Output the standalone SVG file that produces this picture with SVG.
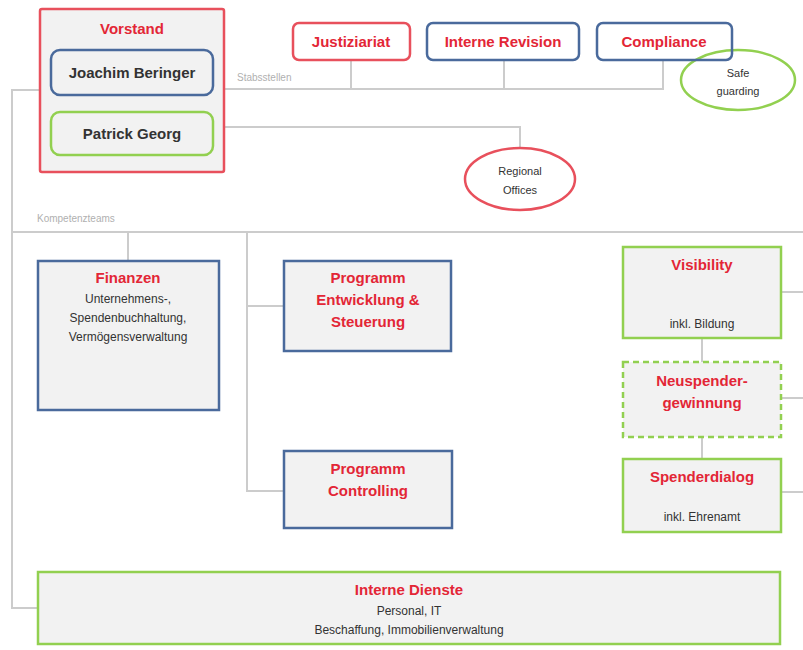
<svg xmlns="http://www.w3.org/2000/svg" width="803" height="650" viewBox="0 0 803 650">
<style>
.bg{fill:#ffffff}
.box{fill:#f2f2f2;stroke-width:2.5}
.red{stroke:#e8505c}
.blue{stroke:#4a6a9c}
.green{stroke:#92d050}
.dash{stroke-dasharray:6 4}
.ln{fill:none;stroke:#cccccc;stroke-width:2}
.t{font-family:"Liberation Sans",Arial,sans-serif;text-anchor:middle}
.tr{fill:#e32636;font-weight:bold;font-size:15px}
.td{fill:#333333;font-weight:bold;font-size:15px}
.ts{fill:#333333;font-size:12px}
.tl{fill:#b0b0b0;font-size:10px;font-family:"Liberation Sans",Arial,sans-serif}
.ell{fill:#ffffff;stroke-width:2.5}
.wbox{fill:#ffffff}
</style>
<rect class="bg" x="0" y="0" width="803" height="650"/>
<g id="connectors">
<polyline class="ln" points="40,90 12,90 12,608 38,608"/>
<line class="ln" x1="224" y1="89" x2="664" y2="89"/>
<line class="ln" x1="351" y1="60" x2="351" y2="89"/>
<line class="ln" x1="504" y1="60" x2="504" y2="89"/>
<line class="ln" x1="663" y1="60" x2="663" y2="89"/>
<polyline class="ln" points="224,127 520,127 520,148"/>
<line class="ln" x1="12" y1="232" x2="803" y2="232"/>
<line class="ln" x1="128" y1="232" x2="128" y2="261"/>
<polyline class="ln" points="247,232 247,491 284,491"/>
<line class="ln" x1="247" y1="306" x2="284" y2="306"/>
<line class="ln" x1="702" y1="338" x2="702" y2="362"/>
<line class="ln" x1="702" y1="437" x2="702" y2="459"/>
<line class="ln" x1="781" y1="292" x2="803" y2="292"/>
<line class="ln" x1="781" y1="398" x2="803" y2="398"/>
<line class="ln" x1="781" y1="492" x2="803" y2="492"/>
</g>
<text class="tl" x="237" y="81">Stabsstellen</text>
<text class="tl" x="37" y="222">Kompetenzteams</text>
<g id="safeguarding">
<ellipse class="ell green" cx="738" cy="80" rx="57" ry="30"/>
<text class="t ts" x="738" y="77" style="font-size:11px">Safe</text>
<text class="t ts" x="738" y="95" style="font-size:11px">guarding</text>
</g>
<g id="vorstand">
<rect class="box red" x="40" y="9" width="184" height="163" rx="2"/>
<text class="t tr" x="132" y="34">Vorstand</text>
</g>
<g id="beringer">
<rect class="box blue" x="51" y="50" width="162" height="45" rx="9"/>
<text class="t td" x="132" y="78">Joachim Beringer</text>
</g>
<g id="georg">
<rect class="box green" x="51" y="112" width="162" height="43" rx="9"/>
<text class="t td" x="132" y="139">Patrick Georg</text>
</g>
<g id="justiziariat">
<rect class="box red wbox" x="293" y="23" width="117" height="37" rx="6"/>
<text class="t tr" x="351" y="47">Justiziariat</text>
</g>
<g id="revision">
<rect class="box blue wbox" x="427" y="23" width="152" height="37" rx="6"/>
<text class="t tr" x="503" y="47">Interne Revision</text>
</g>
<g id="compliance">
<rect class="box blue" x="597" y="23" width="135" height="37" rx="6" style="fill:none"/>
<text class="t tr" x="664" y="47">Compliance</text>
</g>
<g id="regional">
<ellipse class="ell red" cx="520" cy="179" rx="55" ry="31"/>
<text class="t ts" x="520" y="175" style="font-size:11px">Regional</text>
<text class="t ts" x="520" y="194" style="font-size:11px">Offices</text>
</g>
<g id="finanzen">
<rect class="box blue" x="38" y="261" width="181" height="149"/>
<text class="t tr" x="128" y="283">Finanzen</text>
<text class="t ts" x="128" y="303">Unternehmens-,</text>
<text class="t ts" x="128" y="322">Spendenbuchhaltung,</text>
<text class="t ts" x="128" y="341">Vermögensverwaltung</text>
</g>
<g id="entwicklung">
<rect class="box blue" x="284" y="261" width="167" height="90"/>
<text class="t tr" x="368" y="283">Programm</text>
<text class="t tr" x="368" y="305">Entwicklung &amp;</text>
<text class="t tr" x="368" y="327">Steuerung</text>
</g>
<g id="controlling">
<rect class="box blue" x="284" y="451" width="168" height="77"/>
<text class="t tr" x="368" y="474">Programm</text>
<text class="t tr" x="368" y="496">Controlling</text>
</g>
<g id="visibility">
<rect class="box green" x="623" y="247" width="158" height="91"/>
<text class="t tr" x="702" y="270">Visibility</text>
<text class="t ts" x="702" y="328">inkl. Bildung</text>
</g>
<g id="neuspender">
<rect class="box green dash" x="623" y="362" width="158" height="75"/>
<text class="t tr" x="702" y="386">Neuspender-</text>
<text class="t tr" x="702" y="408">gewinnung</text>
</g>
<g id="spenderdialog">
<rect class="box green" x="623" y="459" width="158" height="73"/>
<text class="t tr" x="702" y="482">Spenderdialog</text>
<text class="t ts" x="702" y="521">inkl. Ehrenamt</text>
</g>
<g id="internedienste">
<rect class="box green" x="38" y="572" width="742" height="72"/>
<text class="t tr" x="409" y="595">Interne Dienste</text>
<text class="t ts" x="409" y="615">Personal, IT</text>
<text class="t ts" x="409" y="634">Beschaffung, Immobilienverwaltung</text>
</g>
</svg>
